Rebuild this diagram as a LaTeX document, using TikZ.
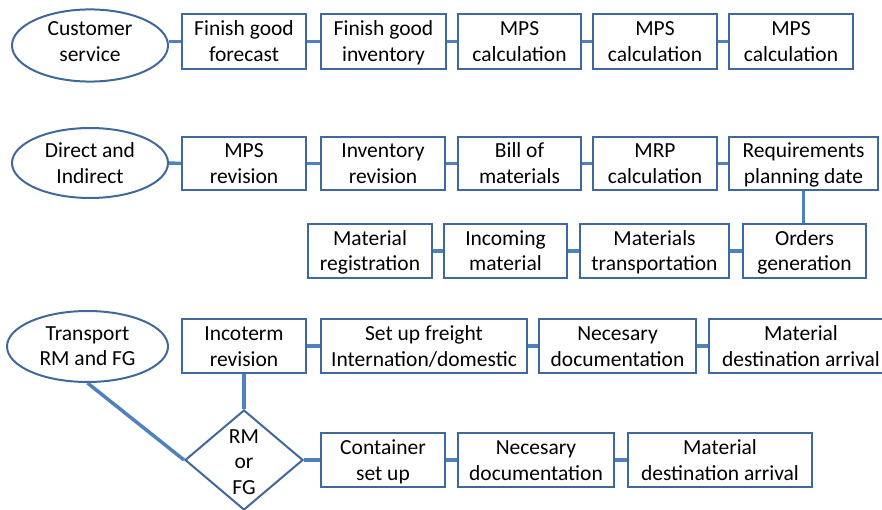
\documentclass[tikz,border=0pt]{standalone}
\usepackage{fontspec}
\setmainfont{Carlito}
\usetikzlibrary{shapes.geometric}
\definecolor{bordc}{HTML}{3F689C}
\definecolor{linec}{HTML}{4F81BD}
\newcommand\twol[3][1.5pt]{\rule{0pt}{16pt}\smash{#2}\\\smash{#3}\rule[-#1]{0pt}{#1}}
\newcommand\threel[3]{\rule{0pt}{18pt}\smash{#1}\\\smash{#2}\\\smash{#3}\rule[-1pt]{0pt}{1pt}}
\begin{document}
\begin{tikzpicture}[x=1pt,y=-1pt,
  every node/.style={font=\fontsize{21.5}{25.5}\selectfont, align=center, inner sep=0pt},
  pbox/.style={draw=bordc, line width=2pt, fill=white, rectangle, minimum height=54pt},
  oval/.style={draw=bordc, line width=2pt, fill=white, ellipse},
  dia/.style={draw=bordc, line width=2pt, fill=white, diamond, minimum width=118pt, minimum height=100pt},
  conn/.style={draw=linec, line width=3.5pt}]
\useasboundingbox (0,0) rectangle (882,510);
\clip (0,0) rectangle (882,510);
% Row 1
\node[oval, minimum width=156pt, minimum height=64pt] (cs) at (90,45.5) {\twol[9.5pt]{Customer}{service}};
\node[pbox, minimum width=124pt, minimum height=55pt] (a1) at (244,41.5) {\twol{Finish good}{forecast}};
\node[pbox, minimum width=125pt, minimum height=55pt] (a2) at (383.5,41.5) {\twol{Finish good}{inventory}};
\node[pbox, minimum width=123pt, minimum height=55pt] (a3) at (519.5,41.5) {\twol{MPS}{calculation}};
\node[pbox, minimum width=124pt, minimum height=55pt] (a4) at (655,41.5) {\twol{MPS}{calculation}};
\node[pbox, minimum width=124pt, minimum height=55pt] (a5) at (791,41.5) {\twol{MPS}{calculation}};
\draw[conn] (a1.west) -- (a1.west -| cs.east);
\draw[conn] (a1.east) -- (a2.west);
\draw[conn] (a2.east) -- (a3.west);
\draw[conn] (a3.east) -- (a4.west);
\draw[conn] (a4.east) -- (a5.west);
% Row 2
\node[oval, minimum width=156pt, minimum height=70pt] (di) at (90,163) {\twol[0.5pt]{Direct and}{Indirect}};
\node[pbox, minimum width=124pt, minimum height=53pt] (b1) at (244,163.5) {\twol{MPS}{revision}};
\node[pbox, minimum width=124pt, minimum height=53pt] (b2) at (383,163.5) {\twol{Inventory}{revision}};
\node[pbox, minimum width=123pt, minimum height=53pt] (b3) at (519.5,163.5) {\twol{Bill of}{materials}};
\node[pbox, minimum width=124pt, minimum height=53pt] (b4) at (655,163.5) {\twol{MRP}{calculation}};
\node[pbox, minimum width=149pt, minimum height=53pt] (b5) at (803.5,163.5) {\twol{Requirements}{planning date}};
\draw[conn] (di.east) -- (b1.west);
\draw[conn] (b1.east) -- (b2.west);
\draw[conn] (b2.east) -- (b3.west);
\draw[conn] (b3.east) -- (b4.west);
\draw[conn] (b4.east) -- (b5.west);
% Row 2b
\node[pbox, minimum width=124pt] (c1) at (370,251) {\twol{Material}{registration}};
\node[pbox, minimum width=123pt] (c2) at (505.5,251) {\twol{Incoming}{material}};
\node[pbox, minimum width=149pt] (c3) at (654.5,251) {\twol{Materials}{transportation}};
\node[pbox, minimum width=123pt] (c4) at (804.5,251) {\twol{Orders}{generation}};
\draw[conn] (b5.south) -- (b5.south |- c4.north);
\draw[conn] (c4.west) -- (c3.east);
\draw[conn] (c3.west) -- (c2.east);
\draw[conn] (c2.west) -- (c1.east);
% Row 3
\node[oval, minimum width=161pt, minimum height=71pt] (tr) at (87.5,346.5) {\twol[3.5pt]{Transport}{RM and FG}};
\node[pbox, minimum width=124pt] (d1) at (244,346) {\twol{Incoterm}{revision}};
\node[pbox, minimum width=206pt] (d2) at (424,346) {\twol{Set up freight}{Internation/domestic}};
\node[pbox, minimum width=157pt] (d3) at (617.5,346) {\twol{Necesary}{documentation}};
\node[pbox, minimum width=184pt] (d4) at (801,346) {\twol{Material}{destination arrival}};
\draw[conn] (d1.east) -- (d2.west);
\draw[conn] (d2.east) -- (d3.west);
\draw[conn] (d3.east) -- (d4.west);
% Row 3b
\node[dia] (rf) at (244,460) {\threel{RM}{or}{FG}};
\node[pbox, minimum width=124pt] (e1) at (383,460) {\twol{Container}{set up}};
\node[pbox, minimum width=156pt] (e2) at (536,460) {\twol{Necesary}{documentation}};
\node[pbox, minimum width=184pt] (e3) at (720,460) {\twol{Material}{destination arrival}};
\draw[conn] (d1.south) -- (rf.north);
\draw[conn] (tr.south) -- (rf.west);
\draw[conn] (rf.east) -- (e1.west);
\draw[conn] (e1.east) -- (e2.west);
\draw[conn] (e2.east) -- (e3.west);
\end{tikzpicture}
\end{document}
